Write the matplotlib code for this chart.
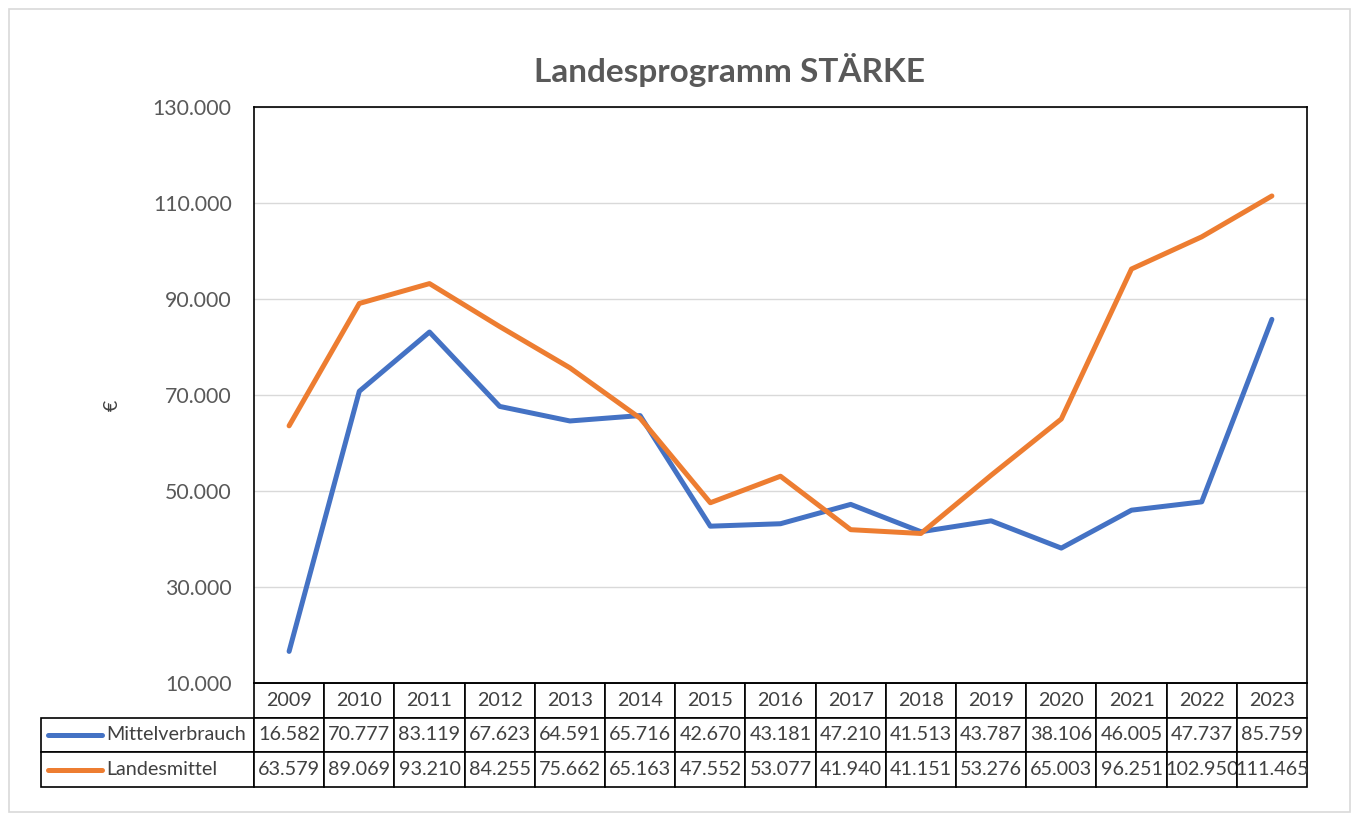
import matplotlib
matplotlib.use("Agg")
import matplotlib.pyplot as plt
from matplotlib.table import Table
from matplotlib.patches import Rectangle
from matplotlib.lines import Line2D
from matplotlib.ticker import FuncFormatter

years = ["2009", "2010", "2011", "2012", "2013", "2014", "2015", "2016",
         "2017", "2018", "2019", "2020", "2021", "2022", "2023"]
mittelverbrauch = [16582, 70777, 83119, 67623, 64591, 65716, 42670, 43181,
                   47210, 41513, 43787, 38106, 46005, 47737, 85759]
landesmittel = [63579, 89069, 93210, 84255, 75662, 65163, 47552, 53077,
                41940, 41151, 53276, 65003, 96251, 102950, 111465]
series_names = ["Mittelverbrauch", "Landesmittel"]
series_colors = ["#4472C4", "#ED7D31"]
title = "Landesprogramm STÄRKE"
ylabel = "€"

plt.rcParams['font.family'] = ['Lato', 'DejaVu Sans']

W, H = 1357, 819
fig = plt.figure(figsize=(W / 100, H / 100), dpi=100)

def fx(px):
    return px / W

def fy(py):
    return 1 - py / H

# outer chart border
fig.patches.append(Rectangle((fx(9), fy(812)), fx(1350) - fx(9), fy(9) - fy(812),
                             transform=fig.transFigure, fill=False,
                             edgecolor="#D9D9D9", linewidth=1.2))

L, R, T, B = 254, 1307, 107, 683
ax = fig.add_axes([fx(L), fy(B), fx(R) - fx(L), fy(T) - fy(B)])

x = list(range(len(years)))
for vals, name, col in zip([mittelverbrauch, landesmittel], series_names, series_colors):
    ax.plot(x, vals, color=col, linewidth=3.6, solid_capstyle='round',
            solid_joinstyle='round', label=name, zorder=3)

ax.set_xlim(-0.5, len(years) - 0.5)
ax.set_ylim(10000, 130000)
ax.set_yticks(range(10000, 130001, 20000))
ax.yaxis.set_major_formatter(FuncFormatter(lambda v, p: f"{int(v):,}".replace(",", ".")))
ax.tick_params(axis='y', length=0, pad=16, labelsize=15.3, labelcolor="#595959")
ax.set_xticks([])
ax.grid(axis='y', color="#D9D9D9", linewidth=1.0, zorder=0)
for s in ax.spines.values():
    s.set_color("black")
    s.set_linewidth(1.2)

fig.text(fx(112), fy(405), ylabel, ha='center', va='center', rotation=90,
         fontsize=14, color="#404040")

fig.text(fx(730), fy(70), title, ha='center', va='center', fontsize=24,
         fontweight='bold', color="#595959")

# data table
tbl_left, tbl_bottom = 41, 787
label_w = L - tbl_left
col_w = (R - L) / len(years)
row_h = (tbl_bottom - B) / 3.0
bbox_x0 = (tbl_left - L) / (R - L)
bbox_y0 = -(tbl_bottom - B) / (B - T)
bbox_w = (R - tbl_left) / (R - L)
bbox_h = (tbl_bottom - B) / (B - T)
tbl = Table(ax, bbox=[bbox_x0, bbox_y0, bbox_w, bbox_h])
tot_w = label_w + col_w * len(years)
FS = 14.2
for j, yr in enumerate(years):
    c = tbl.add_cell(0, j + 1, width=col_w / tot_w, height=1 / 3, text=yr, loc='center')
    c.set_linewidth(1.2)
    c.get_text().set_fontsize(FS)
    c.get_text().set_color("#404040")
for i, (vals, name) in enumerate(zip([mittelverbrauch, landesmittel], series_names)):
    c = tbl.add_cell(i + 1, 0, width=label_w / tot_w, height=1 / 3, text="", loc='left')
    c.set_linewidth(1.2)
    for j, v in enumerate(vals):
        txt = f"{v:,}".replace(",", ".")
        c = tbl.add_cell(i + 1, j + 1, width=col_w / tot_w, height=1 / 3, text=txt, loc='center')
        c.set_linewidth(1.2)
        c.get_text().set_fontsize(FS)
        c.get_text().set_color("#404040")
tbl.auto_set_font_size(False)
for (r, cidx), cell in tbl.get_celld().items():
    cell.PAD = 0.02
ax.add_table(tbl)

# legend keys inside table row labels
for i, (name, col) in enumerate(zip(series_names, series_colors)):
    yc = B + row_h * (i + 1.5)
    fig.add_artist(Line2D([fx(48), fx(102)], [fy(yc), fy(yc)], transform=fig.transFigure,
                          color=col, linewidth=3.6, solid_capstyle='round'))
    fig.text(fx(106), fy(yc), name, ha='left', va='center', fontsize=FS, color="#404040")

fig.savefig("out.png", dpi=100)
